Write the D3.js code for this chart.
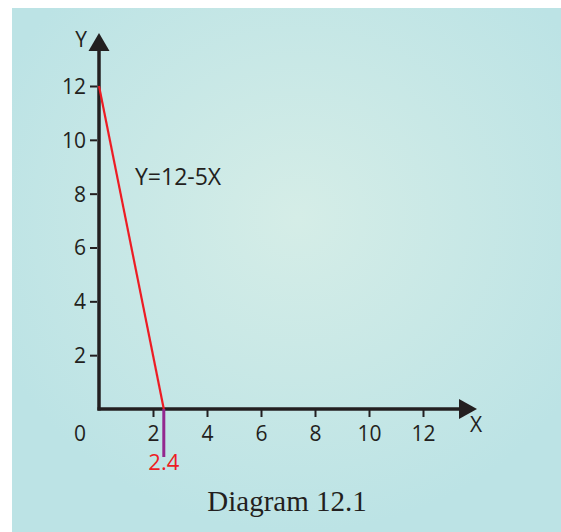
<!DOCTYPE html>
<html>
<head>
<meta charset="utf-8">
<script src="https://cdn.jsdelivr.net/npm/d3@7"></script>
<style>
html,body{margin:0;padding:0;background:#fff;}
svg{display:block;}
</style>
</head>
<body>
<svg id="chart" width="561" height="532"></svg>
<script>
const xTicks = [2, 4, 6, 8, 10, 12];
const yTicks = [2, 4, 6, 8, 10, 12];
const lineX = [0, 2.4];
const lineY = [12, 0];
const equationLabel = "Y=12-5X";
const interceptLabel = "2.4";
const caption = "Diagram 12.1";

const svg = d3.select("#chart");
const defs = svg.append("defs");
const grad = defs.append("radialGradient").attr("id", "bg")
  .attr("cx", "52%").attr("cy", "40%").attr("r", "60%");
grad.append("stop").attr("offset", "0%").attr("stop-color", "#d5ede7");
grad.append("stop").attr("offset", "100%").attr("stop-color", "#bce3e5");
svg.append("rect").attr("x", 12).attr("y", 8).attr("width", 549).attr("height", 524)
  .attr("fill", "url(#bg)");

const x = d3.scaleLinear().domain([0, 12]).range([99, 423]);
const y = d3.scaleLinear().domain([0, 12]).range([409, 86]);
const ink = "#231f20";
const font = "'Open Sans', 'Noto Sans', sans-serif";

// Y axis ticks
const yAxis = d3.axisLeft(y).tickValues(yTicks).tickSize(7).tickPadding(4).tickFormat(d3.format("d"));
const gy = svg.append("g").attr("transform", `translate(${x(0) - 2},0)`).call(yAxis);
gy.select(".domain").remove();
gy.selectAll("line").attr("stroke", ink).attr("stroke-width", 2);
gy.selectAll("text").attr("fill", ink).attr("font-size", 21).attr("font-family", font).attr("dy", "0.35em");

// X axis ticks
const xAxis = d3.axisBottom(x).tickValues(xTicks).tickSize(7).tickPadding(9).tickFormat(d3.format("d"));
const gx = svg.append("g").attr("transform", `translate(0,${y(0) + 1})`).call(xAxis);
gx.select(".domain").remove();
gx.selectAll("line").attr("stroke", ink).attr("stroke-width", 2);
gx.selectAll("text").attr("fill", ink).attr("font-size", 21).attr("font-family", font);

svg.append("text").attr("x", x(0) - 19).attr("y", 441).attr("text-anchor", "middle")
  .attr("fill", ink).attr("font-size", 21).attr("font-family", font).text("0");

// axis lines
svg.append("line").attr("x1", x(0)).attr("x2", x(0)).attr("y1", y(0) + 1.5).attr("y2", 50)
  .attr("stroke", ink).attr("stroke-width", 3.5);
svg.append("line").attr("x1", x(0) - 1.5).attr("x2", 461).attr("y1", y(0)).attr("y2", y(0))
  .attr("stroke", ink).attr("stroke-width", 3.5);
// arrows
svg.append("path").attr("d", `M${x(0)},33 L${x(0) + 10.5},51 L${x(0) - 10.5},51 Z`).attr("fill", ink);
svg.append("path").attr("d", `M477,${y(0)} L459,${y(0) - 10} L459,${y(0) + 10} Z`).attr("fill", ink);
svg.append("text").attr("x", 81).attr("y", 47).attr("text-anchor", "middle")
  .attr("fill", ink).attr("font-size", 21).attr("font-family", font).text("Y");
svg.append("text").attr("x", 476).attr("y", 432).attr("text-anchor", "middle")
  .attr("fill", ink).attr("font-size", 21).attr("font-family", font).text("X");

// purple marker at intercept
svg.append("line").attr("x1", x(2.4)).attr("x2", x(2.4)).attr("y1", y(0)).attr("y2", 457)
  .attr("stroke", "#93278f").attr("stroke-width", 3);

// red line
const pts = lineX.map((d, i) => [d, lineY[i]]);
svg.append("path").datum(pts)
  .attr("d", d3.line().x(d => x(d[0])).y(d => y(d[1])))
  .attr("fill", "none").attr("stroke", "#ed1c24").attr("stroke-width", 2.2);

svg.append("text").attr("x", x(2.4)).attr("y", 470).attr("text-anchor", "middle")
  .attr("fill", "#ed1c24").attr("font-size", 22).attr("font-family", font).text(interceptLabel);

svg.append("text").attr("x", 135).attr("y", 185)
  .attr("fill", ink).attr("font-size", 23).attr("font-family", font).text(equationLabel);

svg.append("text").attr("x", 287).attr("y", 511).attr("text-anchor", "middle")
  .attr("fill", ink).attr("font-size", 29).attr("font-family", "'Liberation Serif', 'DejaVu Serif', serif").text(caption);
</script>
</body>
</html>
